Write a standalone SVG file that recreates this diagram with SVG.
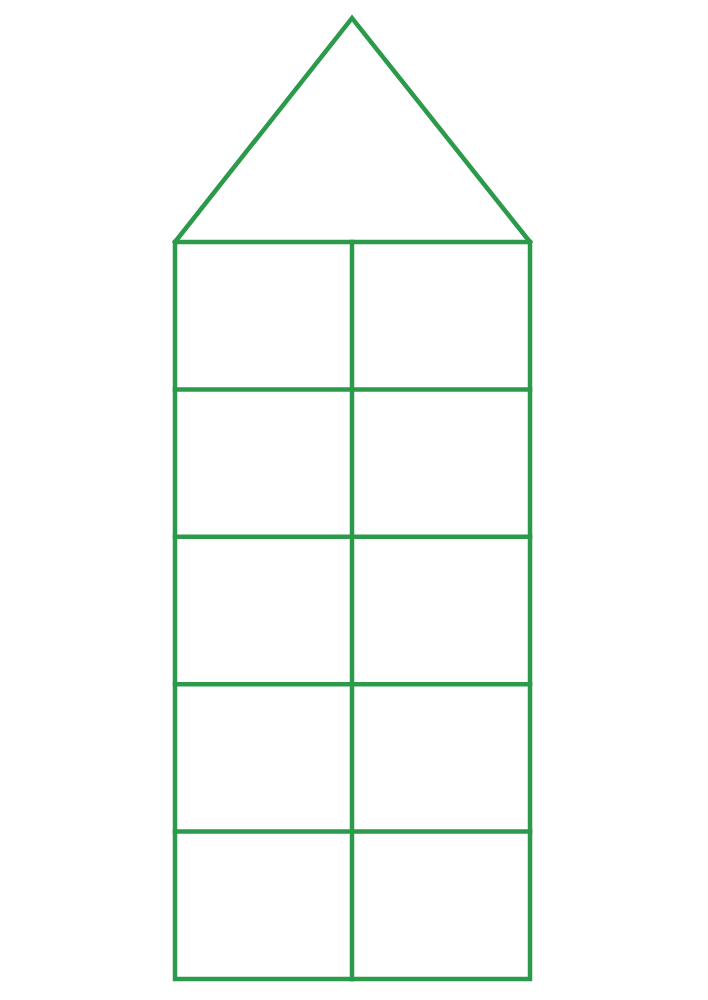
<svg xmlns="http://www.w3.org/2000/svg" width="708" height="1000" viewBox="0 0 708 1000">
<style>
.l{fill:none;stroke:#2b9a4a;stroke-width:4.5;stroke-linejoin:miter;stroke-linecap:square}
</style>
<rect width="708" height="1000" fill="#ffffff"/>
<g id="roof">
<polyline class="l" points="175,242 352,18 530,242" stroke-linejoin="miter"/>
</g>
<g id="building">
<rect class="l" x="175" y="242" width="355" height="737"/>
<line class="l" x1="352" y1="242" x2="352" y2="979"/>
<line class="l" x1="175" y1="389.4" x2="530" y2="389.4"/>
<line class="l" x1="175" y1="536.8" x2="530" y2="536.8"/>
<line class="l" x1="175" y1="684.2" x2="530" y2="684.2"/>
<line class="l" x1="175" y1="831.6" x2="530" y2="831.6"/>
</g>
</svg>
